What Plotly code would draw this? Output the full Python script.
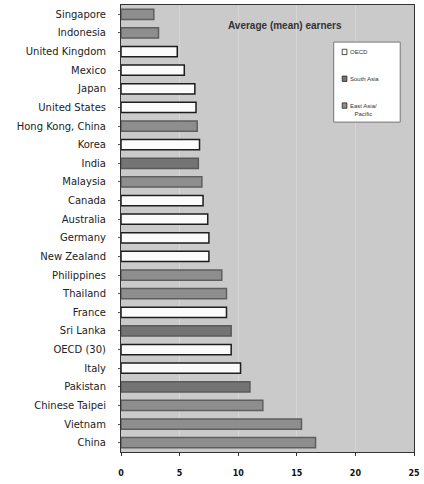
import plotly.graph_objects as go

# Economies, top to bottom, with their region and mean value
countries = ["Singapore", "Indonesia", "United Kingdom", "Mexico", "Japan",
             "United States", "Hong Kong, China", "Korea", "India", "Malaysia",
             "Canada", "Australia", "Germany", "New Zealand", "Philippines",
             "Thailand", "France", "Sri Lanka", "OECD (30)", "Italy",
             "Pakistan", "Chinese Taipei", "Vietnam", "China"]
values = [2.8, 3.2, 4.8, 5.4, 6.3, 6.4, 6.5, 6.7, 6.6, 6.9,
          7.0, 7.4, 7.5, 7.5, 8.6, 9.0, 9.0, 9.4, 9.4, 10.2,
          11.0, 12.1, 15.4, 16.6]
regions = ["EAP", "EAP", "OECD", "OECD", "OECD",
           "OECD", "EAP", "OECD", "SA", "EAP",
           "OECD", "OECD", "OECD", "OECD", "EAP",
           "EAP", "OECD", "SA", "OECD", "OECD",
           "SA", "EAP", "EAP", "EAP"]

series = [
    ("OECD", "OECD", "#fbfbfb", "#1e1e1e"),
    ("SA", "South Asia", "#747474", "#5a5a5a"),
    ("EAP", "East Asia/<br>Pacific", "#8e8e8e", "#5e5e5e"),
]

fig = go.Figure()
for key, name, fill, edge in series:
    ys = [c for c, r in zip(countries, regions) if r == key]
    xs = [v for v, r in zip(values, regions) if r == key]
    fig.add_trace(go.Bar(
        x=xs, y=ys, orientation="h", name=name, showlegend=False,
        marker=dict(color=fill, line=dict(color=edge, width=1.5)),
        width=0.55,
    ))

# Compact key box: small swatches with labels, drawn in paper coordinates
shapes = [dict(type="rect", xref="paper", yref="paper",
               x0=0.726, x1=0.953, y0=0.738, y1=0.917,
               fillcolor="#ffffff", line=dict(color="#777777", width=1))]
annotations = [dict(
    text="<b>Average (mean) earners</b>", x=0.56, y=0.971,
    xref="paper", yref="paper", showarrow=False,
    font=dict(size=10, color="#333333"),
)]
key_rows = [0.895, 0.835, 0.775]
for (key, name, fill, edge), yk in zip(series, key_rows):
    shapes.append(dict(type="rect", xref="paper", yref="paper",
                       x0=0.755, x1=0.771, y0=yk - 0.006, y1=yk + 0.006,
                       fillcolor=fill, line=dict(color="#222222", width=0.8)))
    annotations.append(dict(
        text=name, x=0.774, y=yk, xref="paper", yref="paper",
        xanchor="left", yanchor="middle" if "<br>" not in name else "top",
        yshift=0 if "<br>" not in name else 5,
        align="center", showarrow=False,
        font=dict(size=6, color="#333333"),
    ))

fig.update_layout(
    width=424, height=484,
    margin=dict(l=121, r=4, t=5, b=32),
    paper_bgcolor="#ffffff",
    plot_bgcolor="#cacaca",
    barmode="overlay",
    font=dict(family="Liberation Sans, Arial, sans-serif", color="#222222"),
    showlegend=False,
    shapes=shapes,
    annotations=annotations,
)
fig.update_xaxes(
    range=[0, 25], tickvals=[0, 5, 10, 15, 20, 25],
    tickfont=dict(size=8, color="#111111", family="DejaVu Sans", weight="bold"),
    ticks="outside", ticklen=3, tickcolor="#333333",
    ticklabelstandoff=10, ticklabeloverflow="allow",
    showline=True, linecolor="#333333", linewidth=1, mirror=True,
    showgrid=True, gridcolor="#d6d6d6", gridwidth=1, zeroline=False,
)
fig.update_yaxes(
    categoryorder="array", categoryarray=countries, autorange="reversed",
    tickfont=dict(size=10, color="#222222", family="DejaVu Sans"),
    ticks="outside", ticklen=2, tickcolor="#555555",
    ticklabelstandoff=10,
    showline=True, linecolor="#333333", linewidth=1, mirror=True,
    showgrid=False,
)

fig.write_html("out.html")
